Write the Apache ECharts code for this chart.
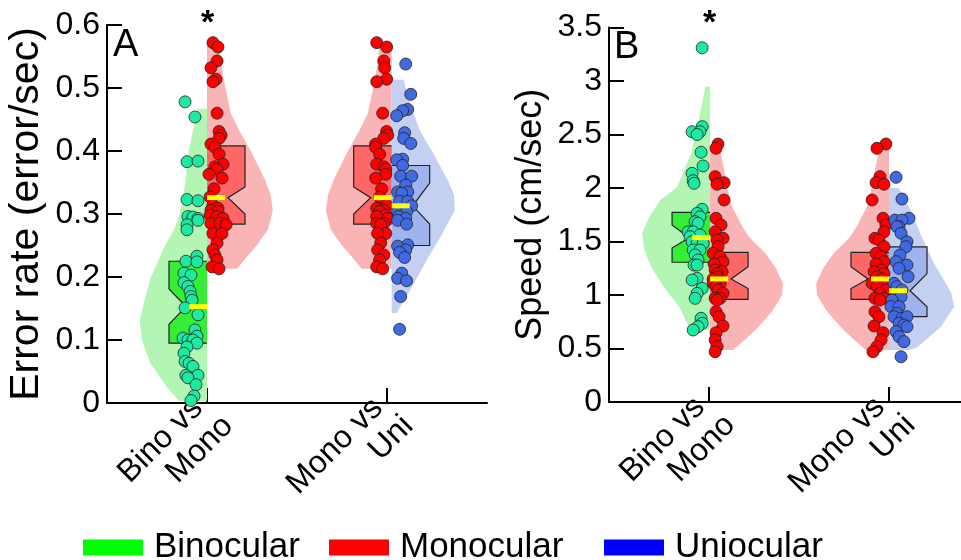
<!DOCTYPE html>
<html><head><meta charset="utf-8">
<script src="https://cdn.jsdelivr.net/npm/echarts@6/dist/echarts.min.js"></script>
<style>html,body{margin:0;padding:0;background:#fff}#c{width:961px;height:560px}</style>
</head><body><div id="c"></div>
<script>
const FONT = '"Liberation Sans", Arial, Helvetica, sans-serif';
const categories = [['Bino vs', 'Mono'], ['Mono vs', 'Uni']];
const groupPos = [1, 2];
const legendNames = ['Binocular', 'Monocular', 'Uniocular'];

// ---- Panel A: error rate (error/sec) ----
const errBino = [0.478,0.454,0.383,0.384,0.323,0.321,0.296,0.295,0.293,0.283,0.290,0.275,0.233,0.225,0.224,0.206,0.203,0.191,0.185,0.177,0.169,0.163,0.151,0.140,0.116,0.106,0.103,0.100,0.100,0.095,0.089,0.079,0.066,0.063,0.058,0.044,0.044,0.040,0.029,0.011,0.004];
const errBinoJitter = [-0.122,-0.067,-0.111,-0.050,-0.111,-0.050,-0.106,-0.078,-0.050,-0.111,-0.050,-0.111,-0.056,-0.117,-0.056,-0.128,-0.089,-0.128,-0.106,-0.094,-0.089,-0.083,-0.122,-0.050,-0.067,-0.056,-0.133,-0.106,-0.078,-0.056,-0.111,-0.128,-0.122,-0.100,-0.078,-0.117,-0.050,-0.106,-0.061,-0.072,-0.089];
const errMono = [0.572,0.565,0.543,0.532,0.514,0.510,0.460,0.431,0.425,0.420,0.411,0.406,0.395,0.379,0.375,0.371,0.363,0.357,0.340,0.327,0.314,0.309,0.306,0.304,0.298,0.296,0.293,0.285,0.285,0.283,0.269,0.269,0.254,0.243,0.235,0.227,0.216,0.213];
const errMonoJitter1 = [0.033,0.061,0.056,0.022,0.050,0.033,0.056,0.067,0.078,0.067,0.022,0.044,0.067,0.089,0.044,0.056,0.011,0.083,0.039,0.017,0.033,0.061,0.022,0.061,0.017,0.056,0.089,0.022,0.072,0.106,0.033,0.083,0.056,0.033,0.044,0.056,0.028,0.067];
const errMonoJitter2 = [-0.083,-0.028,-0.044,-0.039,-0.028,-0.083,-0.050,-0.028,-0.022,-0.044,-0.089,-0.089,-0.067,-0.083,-0.044,-0.033,-0.033,-0.089,-0.056,-0.067,-0.028,-0.083,-0.044,-0.067,-0.033,-0.083,-0.022,-0.083,-0.044,-0.061,-0.033,-0.078,-0.061,-0.078,-0.044,-0.067,-0.083,-0.050];
const errUni = [0.538,0.490,0.466,0.464,0.456,0.429,0.420,0.412,0.387,0.386,0.377,0.360,0.360,0.346,0.335,0.335,0.333,0.320,0.320,0.313,0.304,0.304,0.296,0.293,0.290,0.284,0.251,0.249,0.243,0.239,0.231,0.206,0.198,0.194,0.169,0.117];
const errUniJitter = [0.078,0.106,0.089,0.061,0.028,0.072,0.067,0.106,0.061,0.028,0.061,0.050,0.111,0.078,0.033,0.089,0.056,0.044,0.089,0.111,0.033,0.083,0.039,0.078,0.033,0.083,0.089,0.033,0.078,0.044,0.072,0.056,0.033,0.083,0.050,0.044];
// box stats: [q1, notchLow, median, notchHigh, q3]
const errBoxBino = [0.095, 0.125, 0.153, 0.181, 0.225];
const errBoxMono = [0.284, 0.300, 0.326, 0.343, 0.408];
const errBoxUni  = [0.250, 0.284, 0.313, 0.349, 0.377];
// violin density profiles (value, relative density)
const errVioBinoY = [0.003,0.025,0.063,0.10,0.13,0.16,0.20,0.222,0.25,0.275,0.30,0.35,0.40,0.45,0.467];
const errVioBinoD = [0.40,0.57,0.81,0.93,0.96,0.90,0.80,0.71,0.60,0.47,0.39,0.31,0.26,0.17,0.14];
const errVioMonoY = [0.213,0.232,0.25,0.275,0.305,0.33,0.354,0.397,0.433,0.46,0.502,0.54,0.572];
const errVioMonoD = [0.43,0.57,0.71,0.87,0.94,0.91,0.83,0.64,0.46,0.34,0.26,0.20,0.17];
const errVioUniY = [0.143,0.184,0.227,0.27,0.306,0.33,0.354,0.397,0.433,0.476,0.513];
const errVioUniD = [0.07,0.29,0.50,0.73,0.90,0.89,0.80,0.59,0.40,0.26,0.17];

// ---- Panel B: speed (cm/sec) ----
const spdBino = [3.31,2.573,2.526,2.526,2.50,2.334,2.206,2.137,2.068,2.044,1.80,1.763,1.73,1.685,1.67,1.59,1.59,1.561,1.545,1.498,1.483,1.483,1.421,1.421,1.374,1.327,1.28,1.28,1.156,1.14,1.063,1.016,0.969,0.782,0.735,0.704,0.673];
const spdBinoJitter = [-0.044,-0.044,-0.100,-0.056,-0.072,-0.050,-0.039,-0.100,-0.094,-0.089,-0.044,-0.072,-0.056,-0.083,-0.067,-0.122,-0.094,-0.056,-0.111,-0.100,-0.072,-0.039,-0.094,-0.056,-0.083,-0.067,-0.089,-0.072,-0.072,-0.100,-0.044,-0.072,-0.083,-0.050,-0.044,-0.067,-0.094];
const spdMono = [2.411,2.371,2.106,2.05,2.035,1.888,1.717,1.654,1.59,1.53,1.514,1.452,1.39,1.358,1.311,1.29,1.234,1.218,1.2,1.171,1.15,1.109,1.109,1.08,1.047,1.016,0.969,0.969,0.953,0.844,0.797,0.71,0.648,0.58,0.517,0.47];
const spdMonoJitter1 = [0.044,0.033,0.028,0.078,0.039,0.078,0.033,0.061,0.028,0.072,0.039,0.044,0.017,0.056,0.072,0.022,0.028,0.067,0.039,0.039,0.017,0.017,0.056,0.033,0.044,0.072,0.028,0.056,0.039,0.033,0.050,0.072,0.033,0.028,0.039,0.028];
const spdMonoJitter2 = [-0.017,-0.067,-0.050,-0.072,-0.028,-0.094,-0.033,-0.017,-0.028,-0.078,-0.056,-0.028,-0.072,-0.044,-0.028,-0.072,-0.039,-0.083,-0.028,-0.067,-0.039,-0.094,-0.028,-0.067,-0.017,-0.050,-0.078,-0.028,-0.050,-0.078,-0.056,-0.083,-0.033,-0.044,-0.067,-0.089];
const spdUni = [2.10,1.897,1.717,1.70,1.70,1.638,1.638,1.577,1.498,1.451,1.374,1.311,1.28,1.249,1.171,1.109,1.078,1.047,1.0,0.984,0.953,0.891,0.891,0.829,0.797,0.782,0.797,0.735,0.72,0.704,0.657,0.61,0.564,0.423];
const spdUniJitter = [0.039,0.072,0.111,0.033,0.072,0.056,0.044,0.067,0.100,0.094,0.061,0.039,0.100,0.056,0.106,0.028,0.044,0.072,0.039,0.067,0.017,0.011,0.056,0.044,0.028,0.072,0.100,0.056,0.083,0.100,0.039,0.056,0.083,0.067];
const spdBoxBino = [1.306, 1.439, 1.536, 1.654, 1.773];
const spdBoxMono = [0.960, 1.060, 1.150, 1.265, 1.399];
const spdBoxUni  = [0.797, 0.890, 1.040, 1.200, 1.449];
const spdVioBinoY = [0.673,0.70,0.888,1.075,1.26,1.42,1.58,1.73,1.888,2.01,2.327,2.636,2.947];
const spdVioBinoD = [0.29,0.30,0.44,0.66,0.84,0.94,0.97,0.87,0.71,0.47,0.27,0.16,0.07];
const spdVioMonoY = [0.486,0.6,0.7,0.85,1.0,1.11,1.25,1.39,1.54,1.64,1.86,2.17,2.40];
const spdVioMonoD = [0.33,0.53,0.69,0.89,1.03,1.04,0.94,0.79,0.56,0.46,0.29,0.20,0.13];
const spdVioUniY = [0.486,0.51,0.70,0.89,1.02,1.30,1.54,1.79,2.0];
const spdVioUniD = [0.29,0.40,0.74,0.93,0.89,0.64,0.47,0.31,0.14];

// ---- styling ----
const VIO_SCALE = 70/180;   // density -> x units
const BOX_HW = 38/180;
const NOTCH = 17/180;
const SPLIT_A = [groupPos[0], groupPos[1] + 0.026];  // split line of each pair (panel A)
const SPLIT_B = [groupPos[0] + 0.006, groupPos[1]];  // split line of each pair (panel B)
const C = {
  bino: {vio:'#B3F5B3', box:'#36EE36', pt:'#1DE9A0', leg:'#00FF00'},
  mono: {vio:'#F9B5B5', box:'#FF6666', pt:'#FF0000', leg:'#FF0000'},
  uni:  {vio:'#C4D0F2', box:'#9FB3EE', pt:'#4169E1', leg:'#0000FF'}
};

function violin(name, ai, center, side, ys, ds, col) {
  return {
    type:'custom', name, xAxisIndex:ai, yAxisIndex:ai, z:1, silent:true,
    itemStyle:{color:col.leg}, data:[[center, ys[0]]],
    renderItem(p, api) {
      const pts = [];
      for (let i=0;i<ys.length;i++) pts.push(api.coord([center + side*ds[i]*VIO_SCALE, ys[i]]));
      for (let i=ys.length-1;i>=0;i--) pts.push(api.coord([center, ys[i]]));
      return {type:'polygon', shape:{points:pts}, style:{fill:col.vio}};
    }
  };
}
function box(name, ai, center, side, s, col) {
  return {
    type:'custom', name, xAxisIndex:ai, yAxisIndex:ai, z:2, silent:true,
    itemStyle:{color:col.leg}, data:[[center, s[2]]],
    renderItem(p, api) {
      const ox = center + side*BOX_HW, nx = ox - side*NOTCH;
      const pts = [[center,s[4]],[ox,s[4]],[ox,s[3]],[nx,s[2]],[ox,s[1]],[ox,s[0]],[center,s[0]]].map(q=>api.coord(q));
      return {type:'group', children:[
        {type:'polygon', shape:{points:pts}, style:{fill:col.box}},
        {type:'polyline', shape:{points:pts}, style:{stroke:'#222', lineWidth:1.2, fill:null}}
      ]};
    }
  };
}
function median(name, ai, center, side, s, col) {
  return {
    type:'custom', name, xAxisIndex:ai, yAxisIndex:ai, z:4, silent:true,
    itemStyle:{color:col.leg}, data:[[center, s[2]]],
    renderItem(p, api) {
      const ox = center + side*BOX_HW, nx = ox - side*NOTCH;
      const a = api.coord([nx, s[2]]), b = api.coord([center, s[2]]);
      return {type:'line', shape:{x1:a[0]-side*3,y1:a[1],x2:b[0],y2:b[1]}, style:{stroke:'#FFFF00', lineWidth:5}};
    }
  };
}
function dots(name, ai, center, vals, jit, col) {
  return {
    type:'scatter', name, xAxisIndex:ai, yAxisIndex:ai, z:3, silent:true,
    symbolSize:12, itemStyle:{color:col.pt, borderColor:'#222', borderWidth:0.8, opacity:1},
    data: vals.map((v,i)=>[center + jit[i], v])
  };
}

const series = [
  violin('Binocular',0,SPLIT_A[0],-1,errVioBinoY,errVioBinoD,C.bino),
  violin('Monocular',0,SPLIT_A[0], 1,errVioMonoY,errVioMonoD,C.mono),
  violin('Monocular',0,SPLIT_A[1],-1,errVioMonoY,errVioMonoD,C.mono),
  violin('Uniocular',0,SPLIT_A[1], 1,errVioUniY,errVioUniD,C.uni),
  box('Binocular',0,SPLIT_A[0],-1,errBoxBino,C.bino),
  box('Monocular',0,SPLIT_A[0], 1,errBoxMono,C.mono),
  box('Monocular',0,SPLIT_A[1],-1,errBoxMono,C.mono),
  box('Uniocular',0,SPLIT_A[1], 1,errBoxUni,C.uni),
  dots('Binocular',0,SPLIT_A[0],errBino,errBinoJitter,C.bino),
  dots('Monocular',0,SPLIT_A[0],errMono,errMonoJitter1,C.mono),
  dots('Monocular',0,SPLIT_A[1],errMono,errMonoJitter2,C.mono),
  dots('Uniocular',0,SPLIT_A[1],errUni,errUniJitter,C.uni),
  median('Binocular',0,SPLIT_A[0],-1,errBoxBino,C.bino),
  median('Monocular',0,SPLIT_A[0], 1,errBoxMono,C.mono),
  median('Monocular',0,SPLIT_A[1],-1,errBoxMono,C.mono),
  median('Uniocular',0,SPLIT_A[1], 1,errBoxUni,C.uni),

  violin('Binocular',1,SPLIT_B[0],-1,spdVioBinoY,spdVioBinoD,C.bino),
  violin('Monocular',1,SPLIT_B[0], 1,spdVioMonoY,spdVioMonoD,C.mono),
  violin('Monocular',1,SPLIT_B[1],-1,spdVioMonoY,spdVioMonoD,C.mono),
  violin('Uniocular',1,SPLIT_B[1], 1,spdVioUniY,spdVioUniD,C.uni),
  box('Binocular',1,SPLIT_B[0],-1,spdBoxBino,C.bino),
  box('Monocular',1,SPLIT_B[0], 1,spdBoxMono,C.mono),
  box('Monocular',1,SPLIT_B[1],-1,spdBoxMono,C.mono),
  box('Uniocular',1,SPLIT_B[1], 1,spdBoxUni,C.uni),
  dots('Binocular',1,SPLIT_B[0],spdBino,spdBinoJitter,C.bino),
  dots('Monocular',1,SPLIT_B[0],spdMono,spdMonoJitter1,C.mono),
  dots('Monocular',1,SPLIT_B[1],spdMono,spdMonoJitter2,C.mono),
  dots('Uniocular',1,SPLIT_B[1],spdUni,spdUniJitter,C.uni),
  median('Binocular',1,SPLIT_B[0],-1,spdBoxBino,C.bino),
  median('Monocular',1,SPLIT_B[0], 1,spdBoxMono,C.mono),
  median('Monocular',1,SPLIT_B[1],-1,spdBoxMono,C.mono),
  median('Uniocular',1,SPLIT_B[1], 1,spdBoxUni,C.uni)
];

const axisLine = {show:true, onZero:false, lineStyle:{color:'#000', width:2}};
function xAxis(gi) {
  return {
    type:'value', gridIndex:gi, min:1-100/180, max:2+100/180,
    axisLine, splitLine:{show:false},
    axisTick:{show:true, inside:true, length:15, lineStyle:{color:'#000', width:2}, customValues:groupPos},
    axisLabel:{show:true, customValues:groupPos,
      formatter:v=>{const c=categories[Math.round(v)-1]; return '{a|'+c[0]+'}\n{b|'+c[1]+'}';},
      rotate:45, align:'right', verticalAlign:'middle', color:'#000', fontFamily:FONT, margin:-3,
      rich:{a:{fontSize:32, lineHeight:34, fontFamily:FONT, color:'#000', padding:[26,9,0,0]},
            b:{fontSize:32, lineHeight:34, fontFamily:FONT, color:'#000', padding:[26,0,0,0]}}}
  };
}
function yAxis(gi, max, interval, name, nameSize) {
  return {
    type:'value', gridIndex:gi, min:0, max, interval, name,
    nameLocation:'middle', nameGap:60, nameRotate:90,
    nameTextStyle:{fontSize:nameSize, color:'#000', fontFamily:FONT},
    axisLine, splitLine:{show:false},
    axisTick:{show:true, inside:true, length:15, lineStyle:{color:'#000', width:2}},
    axisLabel:{fontSize:32, color:'#000', fontFamily:FONT, margin:7}
  };
}
const legendLeft = [83, 329, 604];
const legendColor = [C.bino.leg, C.mono.leg, C.uni.leg];
const legends = legendNames.map((n,i)=>({
  left:legendLeft[i], top:530, padding:0, itemWidth:60, itemHeight:16, icon:'rect', selectedMode:false,
  textStyle:{fontSize:35, color:'#000', fontFamily:FONT, padding:[0,0,0,6]},
  data:[{name:n, itemStyle:{color:legendColor[i]}}]
}));

const chart = echarts.init(document.getElementById('c'), null, {renderer:'canvas'});
chart.setOption({
  animation:false,
  backgroundColor:'#fff',
  grid:[
    {left:107, top:25, width:380, height:378, outerBoundsMode:'none', containLabel:false},
    {left:609, top:27.5, width:380, height:374.5, outerBoundsMode:'none', containLabel:false}
  ],
  xAxis:[xAxis(0), xAxis(1)],
  yAxis:[yAxis(0, 0.6, 0.1, 'Error rate (error/sec)', 41), yAxis(1, 3.5, 0.5, 'Speed (cm/sec)', 36)],
  legend:legends,
  graphic:[
    {type:'text', left:113, top:27, style:{text:'A', fontSize:38, fill:'#000', fontFamily:FONT}},
    {type:'text', left:614, top:29, style:{text:'B', fontSize:38, fill:'#000', fontFamily:FONT}},
    {type:'text', left:201, top:7, style:{text:'*', fontSize:34, fontWeight:'bold', fill:'#000', fontFamily:FONT}},
    {type:'text', left:703, top:7, style:{text:'*', fontSize:34, fontWeight:'bold', fill:'#000', fontFamily:FONT}}
  ],
  series
});
</script></body></html>
